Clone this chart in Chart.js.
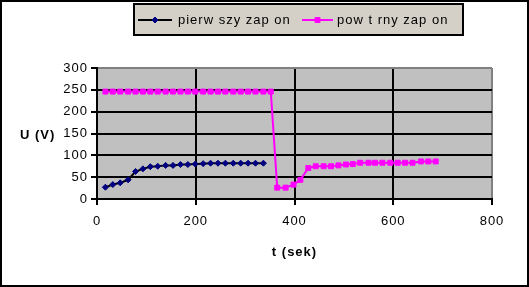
<!DOCTYPE html>
<html>
<head>
<meta charset="utf-8">
<script src="https://cdn.jsdelivr.net/npm/chart.js@4"></script>
<style>
  html, body { margin: 0; padding: 0; background: #fff; }
  #wrap { width: 529px; height: 287px; }
</style>
</head>
<body>
<div id="wrap"><canvas id="myChart" width="529" height="287"></canvas></div>
<script>
// Datos
var seriesNames = ['pierw szy zap on', 'pow t rny zap on'];
var xTicks = [0, 200, 400, 600, 800];
var yTicks = [0, 50, 100, 150, 200, 250, 300];

var timeFirst = [17, 32, 47, 63, 78, 93, 108, 123, 139, 154, 169, 184, 199, 215, 230, 245, 260, 276, 291, 306, 321, 337];
var voltFirst = [27, 33, 37, 44, 63, 69, 74, 75, 77, 77, 79, 79, 80, 81, 82, 82, 82, 82, 82, 82, 82, 82];

var timeSecond = [17, 32, 47, 63, 78, 93, 108, 123, 139, 154, 169, 184, 199, 215, 230, 245, 260, 276, 291, 306, 321, 337, 352,
  365, 382, 398, 412, 428, 443, 459, 474, 489, 504, 518, 533, 550, 563, 578, 594, 609, 624, 639, 656, 671, 686];
var voltSecond = [246, 246, 246, 246, 246, 246, 246, 246, 246, 246, 246, 246, 246, 246, 246, 246, 246, 246, 246, 246, 246, 246, 246,
  26, 26, 33, 44, 71, 75, 75, 75, 77, 79, 80, 83, 83, 83, 83, 83, 83, 83, 83, 86, 86, 86];

function toPoints(xs, ys) {
  return xs.map(function (x, i) { return { x: x, y: ys[i] }; });
}

Chart.defaults.font.family = "'Liberation Sans', Arial, sans-serif";
Chart.defaults.font.size = 13;
Chart.defaults.color = '#000';

// fondo, marco exterior, titulos de ejes y leyenda
var decoPlugin = {
  id: 'deco',
  beforeDraw: function (chart) {
    var ctx = chart.ctx, a = chart.chartArea;
    ctx.letterSpacing = '1px';
    ctx.save();
    ctx.fillStyle = '#fff';
    ctx.fillRect(0, 0, chart.width, chart.height);
    ctx.fillStyle = '#c0c0c0';
    ctx.fillRect(a.left, a.top, a.right - a.left, a.bottom - a.top);
    ctx.restore();
  },
  afterDraw: function (chart) {
    var ctx = chart.ctx, a = chart.chartArea;
    ctx.save();
    // marco exterior
    ctx.strokeStyle = '#000';
    ctx.lineWidth = 2;
    ctx.strokeRect(1, 1, chart.width - 2, chart.height - 2);

    // titulos
    ctx.fillStyle = '#000';
    ctx.font = "bold 13px 'Liberation Sans', Arial, sans-serif";
    ctx.textBaseline = 'middle';
    ctx.textAlign = 'center';
    ctx.fillText('t (sek)', (a.left + a.right) / 2, 252);
    ctx.textAlign = 'left';
    ctx.fillText('U (V)', 20, 135);

    // leyenda
    ctx.fillStyle = '#d4d0c8';
    ctx.fillRect(134, 4, 329, 31);
    ctx.strokeRect(134, 4, 329, 31);
    var ly = 20;
    var items = [
      { x0: 138, x1: 172, tx: 178, ds: chart.data.datasets[0] },
      { x0: 302, x1: 333, tx: 337, ds: chart.data.datasets[1] }
    ];
    items.forEach(function (it) {
      ctx.strokeStyle = it.ds.borderColor;
      ctx.lineWidth = 2;
      ctx.beginPath();
      ctx.moveTo(it.x0, ly);
      ctx.lineTo(it.x1, ly);
      ctx.stroke();
      ctx.fillStyle = it.ds.pointBackgroundColor;
      ctx.strokeStyle = it.ds.pointBorderColor;
      ctx.lineWidth = 1;
      Chart.helpers.drawPoint(ctx, {
        pointStyle: it.ds.pointStyle, radius: it.ds.pointRadius, rotation: 0, borderWidth: 1
      }, (it.x0 + it.x1) / 2, ly);
      ctx.fillStyle = '#000';
      ctx.font = "13px 'Liberation Sans', Arial, sans-serif";
      ctx.textAlign = 'left';
      ctx.fillText(it.ds.label, it.tx, ly);
    });
    ctx.restore();
  }
};

var ctx = document.getElementById('myChart').getContext('2d');
var myChart = new Chart(ctx, {
  type: 'line',
  data: {
    datasets: [{
      label: seriesNames[0],
      data: toPoints(timeFirst, voltFirst),
      borderColor: '#000',
      borderWidth: 2,
      pointStyle: 'rectRot',
      pointRadius: 3,
      pointBackgroundColor: '#000080',
      pointBorderColor: '#000080',
      pointBorderWidth: 1,
      tension: 0
    },
    {
      label: seriesNames[1],
      data: toPoints(timeSecond, voltSecond),
      borderColor: '#ff00ff',
      borderWidth: 2,
      pointStyle: 'rect',
      pointRadius: 3.5,
      pointBackgroundColor: '#ff00ff',
      pointBorderColor: '#ff00ff',
      pointBorderWidth: 1,
      tension: 0
    }]
  },
  options: {
    responsive: false,
    animation: false,
    events: [],
    layout: { padding: { left: 0, right: 37, top: 68, bottom: 0 } },
    plugins: { legend: { display: false }, tooltip: { enabled: false } },
    scales: {
      x: {
        type: 'linear',
        min: 0,
        max: 800,
        afterBuildTicks: function (scale) {
          scale.ticks = xTicks.map(function (v) { return { value: v }; });
        },
        afterFit: function (scale) { scale.height = 88; },
        grid: {
          color: function (c) { return c.tick && c.tick.value === 800 ? '#808080' : '#000'; },
          lineWidth: 2,
          tickColor: '#000',
          tickLength: 6,
          drawOnChartArea: true
        },
        border: { color: '#000', width: 2 },
        ticks: { padding: 9, maxRotation: 0 }
      },
      y: {
        min: 0,
        max: 300,
        afterBuildTicks: function (scale) {
          scale.ticks = yTicks.map(function (v) { return { value: v }; });
        },
        afterFit: function (scale) { scale.width = 97; },
        grid: {
          color: function (c) { return c.tick && c.tick.value === 300 ? '#808080' : '#000'; },
          lineWidth: 2,
          tickColor: '#000',
          tickLength: 6
        },
        border: { color: '#000', width: 2 },
        ticks: { padding: 3 }
      }
    }
  },
  plugins: [decoPlugin]
});
</script>
</body>
</html>
